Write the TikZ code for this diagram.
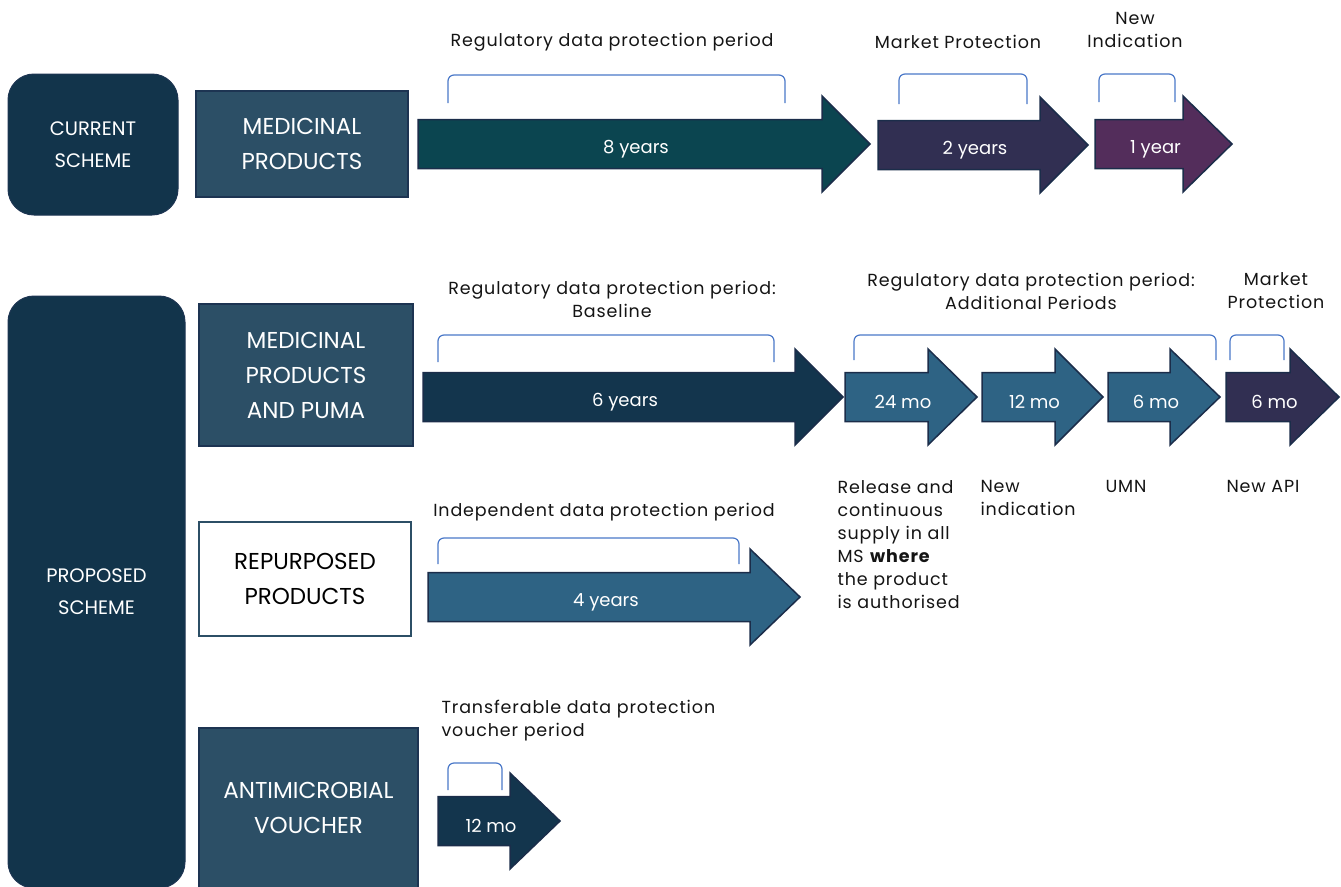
\documentclass[tikz,border=0pt]{standalone}
\usepackage{fontspec}
\setmainfont{Poppins}
\newfontfamily\spacedfont[LetterSpace=5]{Poppins}
\usetikzlibrary{positioning}

\definecolor{schemefill}{HTML}{12344B}
\definecolor{boxfill}{HTML}{2C4F66}
\definecolor{boxedge}{HTML}{1D3452}
\definecolor{tealarrow}{HTML}{0B4550}
\definecolor{navyarrow}{HTML}{13354D}
\definecolor{bluearrow}{HTML}{2E6384}
\definecolor{indigoarrow}{HTML}{312F52}
\definecolor{plumarrow}{HTML}{532D5B}
\definecolor{arrowedge}{HTML}{1B2D4A}
\definecolor{bracketblue}{HTML}{4A78C8}
\definecolor{labelgrey}{HTML}{141414}

\tikzset{
  schemebox/.style={draw=boxedge, fill=schemefill, line width=1pt, rounded corners=26pt,
    text=white, align=center, font=\fontsize{19.5}{32}\selectfont},
  prodbox/.style={draw=boxedge, fill=boxfill, line width=2.5pt, text=white, align=center,
    font=\fontsize{23}{35}\selectfont},
  whitebox/.style={prodbox, draw=boxfill, fill=white, text=black},
  arrowbody/.style={draw=arrowedge, line width=1.5pt, line join=miter},
  arrowtext/.style={text=white, font=\fontsize{18}{20}\selectfont},
  bracket/.style={draw=bracketblue, line width=1.2pt, rounded corners=6pt},
  periodlabel/.style={text=labelgrey, align=center, font=\spacedfont\fontsize{17.5}{23}\selectfont},
  notelabel/.style={text=labelgrey, align=left, anchor=north west, font=\spacedfont\fontsize{17.5}{23}\selectfont}
}

% name, fill, tail x, head x, tip x, centre y, text
\newcommand{\periodarrow}[7]{%
  \filldraw[arrowbody, fill=#2] (#3,#6-24.5) -- (#4,#6-24.5) -- (#4,#6-48) -- (#5,#6)
    -- (#4,#6+48) -- (#4,#6+24.5) -- (#3,#6+24.5) -- cycle;
  \node[arrowtext] (#1) at ({(#3+#5)/2-8},#6+5) {#7};
}

\begin{document}
\begin{tikzpicture}[x=1pt, y=-1pt]
  \useasboundingbox (0,0) rectangle (1341,886);

  % current scheme
  \node[schemebox, minimum width=170, minimum height=141] (current) at (93,144.5) {CURRENT\\SCHEME};
  \node[prodbox, minimum width=212, minimum height=106] (medprod) at (302,144) {MEDICINAL\\PRODUCTS};

  \periodarrow{a8y}{tealarrow}{418}{822}{870}{144}{8 years}
  \periodarrow{a2y}{indigoarrow}{878}{1040}{1088}{145}{2 years}
  \periodarrow{a1y}{plumarrow}{1095}{1183}{1232}{144}{1 year}

  \draw[bracket] (448,103) -- (448,75) -- (785,75) -- (785,103);
  \draw[bracket] (899,104) -- (899,74) -- (1027,74) -- (1027,104);
  \draw[bracket] (1099,102) -- (1099,74) -- (1175,74) -- (1175,102);

  \node[periodlabel] (lreg) at (612,42) {Regulatory data protection period};
  \node[periodlabel] (lmarket) at (958,42) {Market Protection};
  \node[periodlabel] (lnewind) at (1135,30) {New\\Indication};

  % proposed scheme
  \node[schemebox, minimum width=177, minimum height=592] (proposed) at (96.5,592) {PROPOSED\\SCHEME};
  \node[prodbox, minimum width=214, minimum height=142] (medpuma) at (306,375) {MEDICINAL\\PRODUCTS\\AND PUMA};
  \node[whitebox, minimum width=212, minimum height=114] (repurp) at (305,579) {REPURPOSED\\PRODUCTS};
  \node[prodbox, minimum width=219, minimum height=160] (antimic) at (308.5,808) {ANTIMICROBIAL\\VOUCHER};

  \periodarrow{a6y}{navyarrow}{423}{795}{843}{397}{6 years}
  \periodarrow{a24}{bluearrow}{845}{928}{977}{397}{24 mo}
  \periodarrow{a12}{bluearrow}{982}{1055}{1103}{397}{12 mo}
  \periodarrow{a6umn}{bluearrow}{1108}{1170}{1220}{397}{6 mo}
  \periodarrow{a6api}{indigoarrow}{1226}{1290}{1339}{397}{6 mo}
  \periodarrow{a4y}{bluearrow}{428}{750}{800}{597}{4 years}
  \periodarrow{a12v}{navyarrow}{438}{510}{560}{821}{12 mo}

  \draw[bracket] (438,362) -- (438,335) -- (774,335) -- (774,362);
  \draw[bracket] (854,360) -- (854,335) -- (1216,335) -- (1216,360);
  \draw[bracket] (1230,360) -- (1230,335) -- (1284,335) -- (1284,360);
  \draw[bracket] (438,564) -- (438,538) -- (739,538) -- (739,564);
  \draw[bracket] (448,790) -- (448,763) -- (502,763) -- (502,790);

  \node[periodlabel] (lbase) at (612,299) {Regulatory data protection period:\\Baseline};
  \node[periodlabel] (laddit) at (1031,291) {Regulatory data protection period:\\Additional Periods};
  \node[periodlabel] (lmarket2) at (1276,291) {Market\\Protection};
  \node[periodlabel] (lindep) at (604,512) {Independent data protection period};
  \node[notelabel] (ltransf) at (438,697) {Transferable data protection\\voucher period};

  \node[notelabel] (nrelease) at (834,477) {Release and\\continuous\\supply in all\\MS \textbf{where}\\the product\\is authorised};
  \node[notelabel] (nnewind) at (977,477) {New\\indication};
  \node[notelabel] (numn) at (1102,477) {UMN};
  \node[notelabel] (napi) at (1223,477) {New API};
\end{tikzpicture}
\end{document}
